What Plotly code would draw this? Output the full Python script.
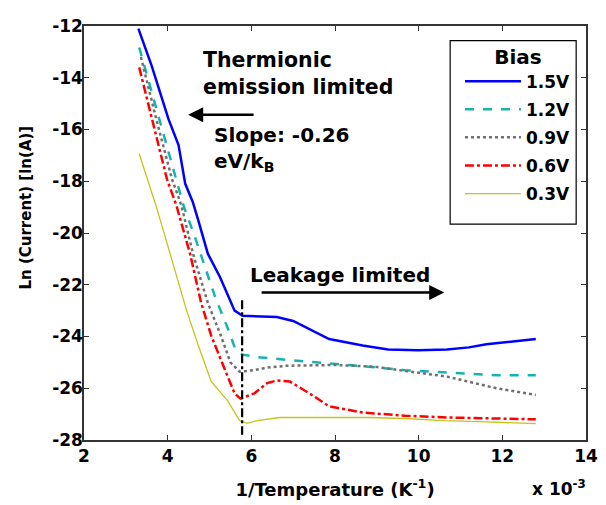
import plotly.graph_objects as go

# ---- data ----
bias_labels = ["1.5V", "1.2V", "0.9V", "0.6V", "0.3V"]

x_15 = [3.30, 3.62, 4.02, 4.26, 4.42, 4.60, 4.73, 4.96, 5.25, 5.60, 5.79, 6.20, 6.61, 7.00, 7.25, 7.86, 8.66, 9.27, 9.98, 10.68, 11.20, 11.62, 12.20, 12.80]
y_15 = [-12.1, -13.55, -15.6, -16.6, -18.1, -18.8, -19.5, -20.8, -21.7, -23.0, -23.2, -23.22, -23.25, -23.4, -23.6, -24.1, -24.35, -24.5, -24.53, -24.5, -24.42, -24.3, -24.2, -24.1]

x_12 = [3.32, 3.79, 4.19, 4.38, 4.66, 5.13, 5.44, 5.62, 5.79, 6.14, 6.85, 8.02, 8.80, 9.67, 10.68, 11.86, 12.80]
y_12 = [-12.83, -15.55, -17.9, -18.94, -20.2, -22.45, -23.7, -24.5, -24.7, -24.8, -24.9, -25.05, -25.17, -25.3, -25.4, -25.5, -25.5]

x_09 = [3.36, 3.72, 4.10, 4.33, 4.61, 4.96, 5.27, 5.50, 5.72, 6.07, 6.38, 6.85, 8.02, 8.96, 9.67, 10.68, 11.86, 12.80]
y_09 = [-13.2, -15.55, -17.9, -18.94, -20.83, -22.7, -23.96, -25.0, -25.36, -25.3, -25.2, -25.13, -25.1, -25.17, -25.33, -25.55, -26.0, -26.26]

x_06 = [3.32, 3.62, 3.98, 4.21, 4.54, 4.80, 5.04, 5.36, 5.60, 5.74, 6.07, 6.38, 6.61, 6.92, 7.39, 7.86, 8.66, 9.67, 10.68, 11.86, 12.80]
y_06 = [-13.6, -15.55, -17.9, -18.94, -20.83, -22.7, -23.96, -25.25, -26.2, -26.4, -26.2, -25.8, -25.7, -25.74, -26.2, -26.7, -26.94, -27.06, -27.13, -27.17, -27.2]

x_03 = [3.32, 3.72, 3.95, 4.26, 4.45, 4.73, 5.04, 5.44, 5.72, 5.90, 6.14, 6.68, 8.80, 9.67, 10.60, 11.62, 12.50, 12.80]
y_03 = [-16.94, -18.94, -20.2, -21.96, -22.98, -24.34, -25.74, -26.5, -27.25, -27.36, -27.25, -27.13, -27.13, -27.17, -27.25, -27.3, -27.36, -27.37]

divider_x = [5.78, 5.78]
divider_y = [-22.6, -27.8]

x_ticks = [2, 4, 6, 8, 10, 12, 14]
y_ticks = [-28, -26, -24, -22, -20, -18, -16, -14, -12]

FONT = "DejaVu Sans"

series = [
    (x_15, y_15, "#0000ff", "solid", 2.5),
    (x_12, y_12, "#17b3b3", "dash", 2.5),
    (x_09, y_09, "#707070", "dot", 2.5),
    (x_06, y_06, "#ff0000", "dashdot", 2.5),
    (x_03, y_03, "#c4c41a", "solid", 1.3),
]

fig = go.Figure()
for (xs, ys, col, dash, w), name in zip(series, bias_labels):
    fig.add_trace(go.Scatter(x=xs, y=ys, mode="lines", name="<b>" + name + "</b>",
                             line=dict(color=col, dash=dash, width=w),
                             legendgroup=name))

fig.add_trace(go.Scatter(x=divider_x, y=divider_y, mode="lines", showlegend=False,
                         line=dict(color="black", dash="dashdot", width=2.2)))

axis_common = dict(showline=True, linecolor="#333333", linewidth=1.5, mirror="ticks",
                   ticks="inside", ticklen=5, tickcolor="#333333", showgrid=False,
                   zeroline=False, ticklabeloverflow="allow",
                   tickfont=dict(family=FONT, size=17, color="black"))

fig.update_xaxes(range=[2, 14], tickvals=x_ticks, ticktext=["<b>%d</b>" % v for v in x_ticks],
                 title=dict(text="<b>1/Temperature (K<sup>-1</sup>)</b>",
                            font=dict(family=FONT, size=18, color="black"), standoff=18),
                 **axis_common)
fig.update_yaxes(range=[-28, -12], tickvals=y_ticks, ticktext=["<b>%d</b>" % v for v in y_ticks],
                 ticklabelstandoff=-4, **axis_common)

ann = []
ann.append(dict(x=4.80, y=-13.85, xref="x", yref="y", xanchor="left", yanchor="middle",
                text="<b>Thermionic<br>emission limited</b>", showarrow=False, align="left",
                font=dict(family=FONT, size=20.5, color="black")))
ann.append(dict(x=4.49, y=-15.43, ax=6.09, ay=-15.43, xref="x", yref="y", axref="x", ayref="y",
                text="", showarrow=True, arrowhead=2, arrowsize=1.2, arrowwidth=2.5, arrowcolor="black"))
ann.append(dict(x=5.06, y=-16.77, xref="x", yref="y", xanchor="left", yanchor="middle",
                text="<b>Slope: -0.26<br>eV/k<sub>B</sub></b>", showarrow=False, align="left",
                font=dict(family=FONT, size=20, color="black")))
ann.append(dict(x=5.91, y=-21.62, xref="x", yref="y", xanchor="left", yanchor="middle",
                text="<b>Leakage limited</b>", showarrow=False,
                font=dict(family=FONT, size=20, color="black")))
ann.append(dict(x=10.61, y=-22.30, ax=6.21, ay=-22.30, xref="x", yref="y", axref="x", ayref="y",
                text="", showarrow=True, arrowhead=2, arrowsize=1.2, arrowwidth=2.5, arrowcolor="black"))
ann.append(dict(x=0, y=0.5615, xref="paper", yref="paper", xshift=-58,
                text="<b>Ln (Current) [ln(A)]</b>", textangle=-90, showarrow=False,
                xanchor="center", yanchor="middle",
                font=dict(family=FONT, size=15, color="black")))
ann.append(dict(x=1, y=0, xref="paper", yref="paper", xanchor="right", yanchor="bottom",
                xshift=2, yshift=-61, text="<b>x 10<sup>-3</sup></b>", showarrow=False,
                font=dict(family=FONT, size=17, color="black")))

# page has an 8px body margin: figure is offset by (8, 8)
fig.update_layout(
    width=598, height=497,
    margin=dict(l=76, r=12, t=8, b=65),
    paper_bgcolor="white", plot_bgcolor="white",
    showlegend=True,
    legend=dict(x=0.98, y=0.972, xanchor="right", yanchor="top",
                borderwidth=0, bgcolor="rgba(0,0,0,0)",
                font=dict(family=FONT, size=17, color="black"),
                title=dict(text="<b>Bias</b>", side="top center",
                           font=dict(family=FONT, size=20, color="black")),
                tracegroupgap=3, itemwidth=56),
    shapes=[dict(type="rect", xref="paper", yref="paper", x0=0.7294, x1=0.9804,
                 y0=0.5212, y1=0.9646, line=dict(color="black", width=1.2),
                 fillcolor="rgba(0,0,0,0)", layer="above")],
    annotations=ann,
)

fig.write_html("out.html")
